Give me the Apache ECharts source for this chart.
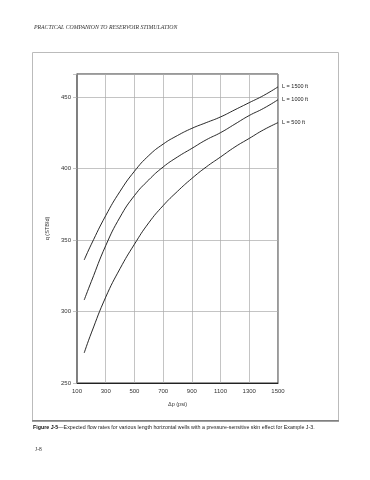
<!DOCTYPE html>
<html>
<head>
<meta charset="utf-8">
<script src="https://cdn.jsdelivr.net/npm/echarts@6/dist/echarts.min.js"></script>
<style>html,body{margin:0;padding:0;background:#fff}#c{width:370px;height:480px}</style>
</head>
<body>
<div id="c"></div>
<script>
var dp = [150, 200, 300, 400, 500, 600, 700, 800, 900, 1000, 1100, 1200, 1300, 1400, 1500];
var qL1500 = [336, 347, 367, 384, 398, 409, 417, 423, 428, 432, 436, 441, 446, 451, 457];
var qL1000 = [308, 321, 346, 366, 381, 392, 401, 408, 414, 420, 425, 431, 437, 442, 448];
var qL500  = [271, 285, 310, 330, 347, 362, 374, 384, 393, 401, 408, 415, 421, 427, 432];
var seriesNames = ['L = 1500 ft', 'L = 1000 ft', 'L = 500 ft'];
var xTicks = [100, 300, 500, 700, 900, 1100, 1300, 1500];
var yTicks = [250, 300, 350, 400, 450];

function pairs(ys) { return dp.map(function (x, i) { return [x, ys[i]]; }); }
var font = 'Liberation Sans, Arial, sans-serif';
function mk(name, ys) {
  return {
    name: name, type: 'line', data: pairs(ys), smooth: 0.5, symbol: 'none',
    lineStyle: { color: '#111', width: 0.9 },
    endLabel: { show: true, formatter: name, color: '#222', fontSize: 5.5, fontFamily: font, distance: 4 },
    labelLayout: { hideOverlap: false }
  };
}
var chart = echarts.init(document.getElementById('c'), null, { renderer: 'canvas' });
chart.setOption({
  animation: false,
  backgroundColor: '#fff',
  grid: { left: 77, right: 92, top: 74, bottom: 97, show: true, borderColor: '#333', borderWidth: 1 },
  xAxis: {
    type: 'value', min: 100, max: 1500, interval: 200,
    name: 'Δp (psi)', nameLocation: 'middle', nameGap: 18,
    nameTextStyle: { fontSize: 5.5, fontFamily: font, color: '#333' },
    axisLine: { show: true, lineStyle: { color: '#222', width: 1 } },
    axisTick: { show: false },
    axisLabel: { fontSize: 6, fontFamily: font, color: '#333', margin: 5,
      formatter: function (v) { return xTicks.indexOf(v) >= 0 ? String(v) : ''; } },
    splitLine: { show: true, lineStyle: { color: '#aaa', width: 0.7 } }
  },
  yAxis: {
    type: 'value', min: 250, max: 466, interval: 50,
    name: 'q (STB/d)', nameLocation: 'middle', nameGap: 22, nameRotate: 90,
    nameTextStyle: { fontSize: 5.5, fontFamily: font, color: '#333' },
    axisLine: { show: true, lineStyle: { color: '#777', width: 1.5 } },
    axisTick: { show: true, length: 4, lineStyle: { color: '#aaa', width: 0.7 } },
    axisLabel: { fontSize: 6, fontFamily: font, color: '#333', margin: 6,
      formatter: function (v) { return yTicks.indexOf(v) >= 0 ? String(v) : ''; } },
    splitLine: { show: true, lineStyle: { color: '#aaa', width: 0.7 } }
  },
  series: [mk(seriesNames[0], qL1500), mk(seriesNames[1], qL1000), mk(seriesNames[2], qL500)],
  graphic: [
    { type: 'rect', shape: { x: 32.5, y: 52.5, width: 306, height: 368 }, style: { fill: 'none', stroke: '#bbb', lineWidth: 1 }, silent: true },
    { type: 'line', shape: { x1: 32, y1: 421, x2: 339, y2: 421 }, style: { stroke: '#444', lineWidth: 1 } },
    { type: 'text', left: 34, top: 24, style: { text: 'PRACTICAL COMPANION TO RESERVOIR STIMULATION', fontSize: 5.8, fontStyle: 'italic', fontFamily: 'Liberation Serif, Times New Roman, serif', fill: '#333' } },
    { type: 'text', left: 33, top: 425, style: { rich: { b: { fontWeight: 'bold', fontSize: 5.3, fontFamily: font, fill: '#111' }, n: { fontSize: 5.3, fontFamily: font, fill: '#222' } }, text: '{b|Figure J-5}{n|—Expected flow rates for various length horizontal wells with a pressure-sensitive skin effect for Example J-3.}' } },
    { type: 'text', left: 35, top: 447, style: { text: 'J-8', fontSize: 5.5, fontFamily: 'Liberation Serif, Times New Roman, serif', fill: '#333' } }
  ]
});
</script>
</body>
</html>
